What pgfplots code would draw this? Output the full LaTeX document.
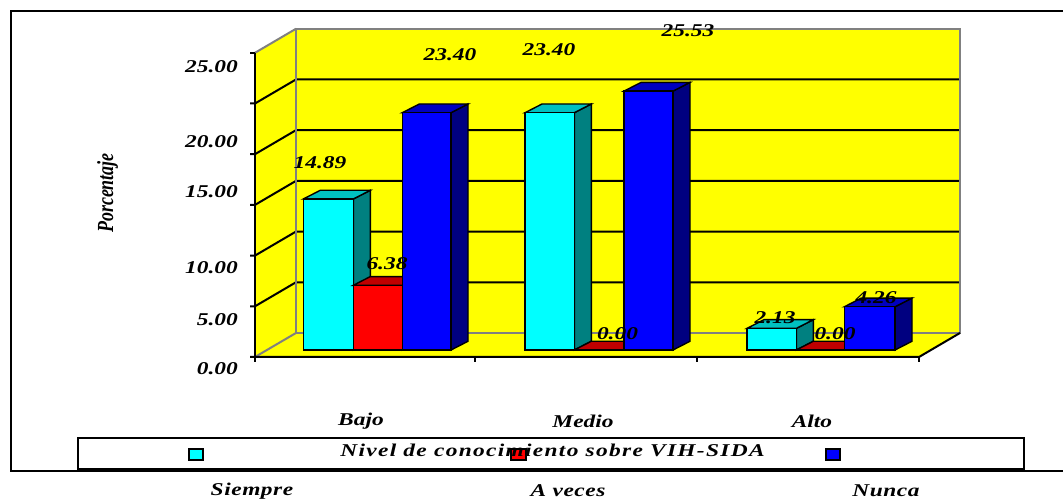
\documentclass[border=0pt]{standalone}
\usepackage{pgfplots}
\pgfplotsset{compat=1.18}
\usepackage{fontspec}
\setmainfont{Liberation Serif}[FakeStretch=1.3]
\newfontfamily\narrowface{Liberation Serif}[FakeStretch=0.78]

\definecolor{cyanfront}{HTML}{00FFFF}
\definecolor{cyanside}{HTML}{008080}
\definecolor{cyantop}{HTML}{00C0C0}
\definecolor{redfront}{HTML}{FF0000}
\definecolor{redside}{HTML}{800000}
\definecolor{redtop}{HTML}{C00000}
\definecolor{bluefront}{HTML}{0000FF}
\definecolor{blueside}{HTML}{000080}
\definecolor{bluetop}{HTML}{0000C0}
\definecolor{wall}{HTML}{FFFF00}
\definecolor{wallgray}{HTML}{808080}

% one fake 3D column: x left, x right, value, colour prefix
\newcommand{\column}[4]{%
  \pgfmathsetmacro{\xb}{#2+17}
  \pgfmathsetmacro{\xc}{#1+17}
  \pgfmathsetmacro{\yb}{#3+0.86}
  \addplot[fill=#4side,draw=black,line width=1.4pt] coordinates {(#2,0) (\xb,0.86) (\xb,\yb) (#2,#3)} --cycle;
  \addplot[fill=#4top,draw=black,line width=1.4pt] coordinates {(#1,#3) (#2,#3) (\xb,\yb) (\xc,\yb)} --cycle;
  \addplot[fill=#4front,draw=black,line width=1.4pt] coordinates {(#1,0) (#2,0) (#2,#3) (#1,#3)} --cycle;
}
% text placed by image row
\newcommand{\lab}[3]{\node[font=\fontsize{18}{18}\selectfont\bfseries\itshape,inner sep=0pt] at (axis cs:#1,{(350-#2)/10.14}) {#3};}
\newcommand{\ticklab}[3]{\node[font=\fontsize{18}{18}\selectfont\bfseries\itshape,inner sep=0pt,anchor=east] at (axis cs:#1,{(350-#2)/10.14}) {#3};}

\begin{document}
\begin{tikzpicture}
\useasboundingbox (0,0) rectangle (1063pt,500pt);
\begin{axis}[
    scale only axis,
    width=1063pt,
    height=500pt,
    xmin=0, xmax=1063,
    ymin=-14.793, ymax=34.517,
    hide axis,
    clip=false,
    no markers,
]
% outer frame
\addplot[draw=black,line width=2.5pt] coordinates {(1063,33.43) (11,33.43) (11,-11.93) (1063,-11.93)};

% walls and floor
\addplot[fill=wall,draw=wallgray,line width=2pt] coordinates {(296,1.68) (960,1.68) (960,31.68) (296,31.68)} --cycle;
\addplot[fill=wall,draw=none] coordinates {(255,-0.69) (296,1.68) (296,31.68) (255,29.31)} --cycle;
\addplot[fill=wall,draw=none] coordinates {(255,-0.69) (919,-0.69) (960,1.68) (296,1.68)} --cycle;
\addplot[draw=wallgray,line width=2pt] coordinates {(255,29.31) (296,31.68)};
\addplot[draw=wallgray,line width=2pt] coordinates {(255,-0.69) (296,1.68)};
\addplot[draw=wallgray,line width=2pt] coordinates {(296,1.68) (960,1.68)};

% gridlines, left wall then back wall
\addplot[draw=black,line width=2pt] coordinates {(250,4.31) (255,4.31) (296,6.68) (960,6.68)};
\addplot[draw=black,line width=2pt] coordinates {(250,9.31) (255,9.31) (296,11.68) (960,11.68)};
\addplot[draw=black,line width=2pt] coordinates {(250,14.31) (255,14.31) (296,16.68) (960,16.68)};
\addplot[draw=black,line width=2pt] coordinates {(250,19.31) (255,19.31) (296,21.68) (960,21.68)};
\addplot[draw=black,line width=2pt] coordinates {(250,24.31) (255,24.31) (296,26.68) (960,26.68)};
\addplot[draw=black,line width=2pt] coordinates {(250,29.31) (255,29.31)};
\addplot[draw=wallgray,line width=2pt] coordinates {(296,1.68) (296,31.68)};
\addplot[draw=wallgray,line width=2pt] coordinates {(960,1.68) (960,31.68)};

% axis lines and ticks
\addplot[draw=black,line width=2pt] coordinates {(255,29.31) (255,-0.69)};
\addplot[draw=black,line width=2pt] coordinates {(250,-0.69) (919,-0.69) (960,1.68)};
\addplot[draw=black,line width=1.5pt] coordinates {(255,-0.69) (255,-1.2)};
\addplot[draw=black,line width=1.5pt] coordinates {(475,-0.69) (475,-1.2)};
\addplot[draw=black,line width=1.5pt] coordinates {(697,-0.69) (697,-1.2)};
\addplot[draw=black,line width=1.5pt] coordinates {(919,-0.69) (919,-1.2)};

% Bajo
\column{303.3}{353.3}{14.89}{cyan}
\column{353.3}{402.3}{6.38}{red}
\column{402.3}{451}{23.40}{blue}
% Medio
\column{525}{574.3}{23.40}{cyan}
\column{574.3}{624}{0.00}{red}
\column{624}{673}{25.53}{blue}
% Alto
\column{747}{796.3}{2.13}{cyan}
\column{796.3}{844.3}{0.00}{red}
\column{844.3}{895}{4.26}{blue}

% legend
\addplot[fill=white,draw=black,line width=1.5pt] coordinates {(78,-8.68) (1024,-8.68) (1024,-11.74) (78,-11.74)} --cycle;
\addplot[fill=cyanfront,draw=black,line width=1.2pt] coordinates {(189,-9.76) (203,-9.76) (203,-10.85) (189,-10.85)} --cycle;
\addplot[fill=redfront,draw=black,line width=1.2pt] coordinates {(511,-9.76) (526,-9.76) (526,-10.85) (511,-10.85)} --cycle;
\addplot[fill=bluefront,draw=black,line width=1.2pt] coordinates {(826,-9.76) (840,-9.76) (840,-10.85) (826,-10.85)} --cycle;

% value labels
\lab{320}{163}{14.89}
\lab{387}{264}{6.38}
\lab{450}{55}{23.40}
\lab{549}{50}{23.40}
\lab{617.5}{334}{0.00}
\lab{688}{31}{25.53}
\lab{775}{318}{2.13}
\lab{835}{334}{0.00}
\lab{876}{298}{4.26}

% y tick labels, they sit off their ticks in the source chart
\ticklab{238}{66.7}{25.00}
\ticklab{238}{141.7}{20.00}
\ticklab{238}{191.7}{15.00}
\ticklab{238}{268}{10.00}
\ticklab{238}{320}{5.00}
\ticklab{238}{369}{0.00}

% categories and titles
\lab{361}{421}{Bajo}
\lab{583}{421}{Medio}
\lab{812}{421}{Alto}
\lab{552.5}{450}{\addfontfeatures{LetterSpace=7.3}Nivel de conocimiento sobre VIH-SIDA}
\lab{252}{491}{\addfontfeatures{LetterSpace=3}Siempre}
\lab{568}{491}{\addfontfeatures{LetterSpace=3}A veces}
\lab{886}{491}{\addfontfeatures{LetterSpace=3}Nunca}
\node[font=\fontsize{23}{23}\selectfont\narrowface\bfseries\itshape,inner sep=0pt,rotate=90] at (axis cs:107.5,{(350-193)/10.14}) {Porcentaje};
\end{axis}
\end{tikzpicture}
\end{document}
